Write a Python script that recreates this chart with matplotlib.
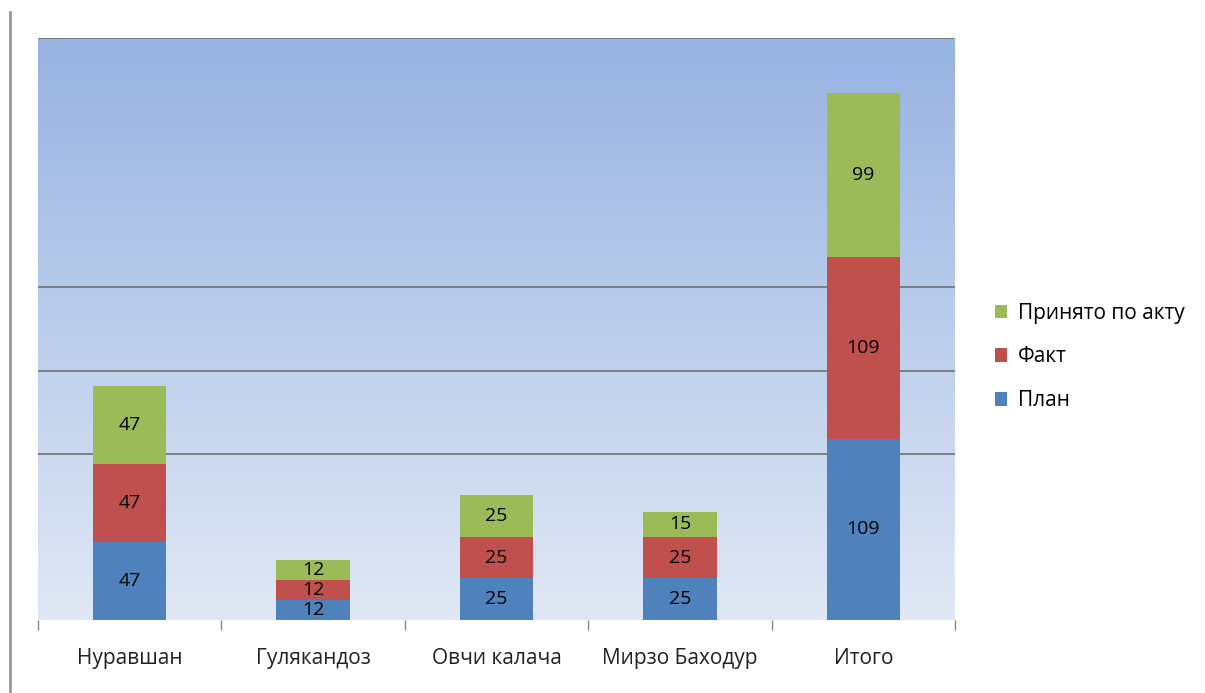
import matplotlib.pyplot as plt
import numpy as np
from matplotlib.lines import Line2D
from matplotlib.colors import LinearSegmentedColormap

# данные
categorias = ["Нуравшан", "Гулякандоз", "Овчи калача", "Мирзо Баходур", "Итого"]
plan = [47, 12, 25, 25, 109]
fakt = [47, 12, 25, 25, 109]
prinyato = [47, 12, 25, 15, 99]
series_names = ["План", "Факт", "Принято по акту"]
grid_vals = [100, 150, 200, 350]

azul, rojo, verde = '#4F81BD', '#C0504D', '#9BBB59'

plt.rcParams['font.family'] = ['Open Sans', 'DejaVu Sans']

fig = plt.figure(figsize=(12.05, 6.93), dpi=100)
ax = fig.add_axes([38/1205, 73/693, 917/1205, 582/693])

# fondo degradado
cmap = LinearSegmentedColormap.from_list('bg', ['#E0E8F5', '#97B3E2'])
grad = np.linspace(0, 1, 256).reshape(-1, 1)
ax.imshow(grad, cmap=cmap, aspect='auto', extent=[0, 1, 0, 1],
          transform=ax.transAxes, origin='lower', zorder=0)

x = np.arange(len(categorias))
w = 0.40
b1 = ax.bar(x, plan, w, color=azul, label=series_names[0], zorder=3)
b2 = ax.bar(x, fakt, w, bottom=plan, color=rojo, label=series_names[1], zorder=3)
base3 = np.array(plan) + np.array(fakt)
b3 = ax.bar(x, prinyato, w, bottom=base3, color=verde, label=series_names[2], zorder=3)

for bars in (b1, b2, b3):
    ax.bar_label(bars, label_type='center', fontsize=14, color='black', zorder=4)

ax.set_xlim(-0.5, 4.5)
ax.set_ylim(0, 350)
ax.set_yticks(grid_vals)
ax.set_yticklabels([])
ax.tick_params(axis='y', length=0)
ax.grid(axis='y', color='#707070', linewidth=1.2, zorder=1)
ax.set_axisbelow(True)

ax.set_xticks(x)
ax.set_xticklabels(categorias, fontsize=15, color='#222222')
ax.tick_params(axis='x', which='major', length=0, pad=20)
ax.set_xticks(np.arange(-0.5, 5, 1), minor=True)
ax.tick_params(axis='x', which='minor', length=7, color='#888888', width=1)

for s in ax.spines.values():
    s.set_visible(False)

h, l = ax.get_legend_handles_labels()
ax.legend(h[::-1], l[::-1], loc='center left', bbox_to_anchor=(1.032, 0.452),
          frameon=False, fontsize=15, handlelength=0.6, handleheight=0.6,
          labelspacing=1.1, handletextpad=0.5, borderpad=0)

# linea vertical izquierda
fig.add_artist(Line2D([10/1205, 10/1205], [0, 681/693], color='#999999', linewidth=2,
                      transform=fig.transFigure))

plt.savefig("out.png", dpi=100)
